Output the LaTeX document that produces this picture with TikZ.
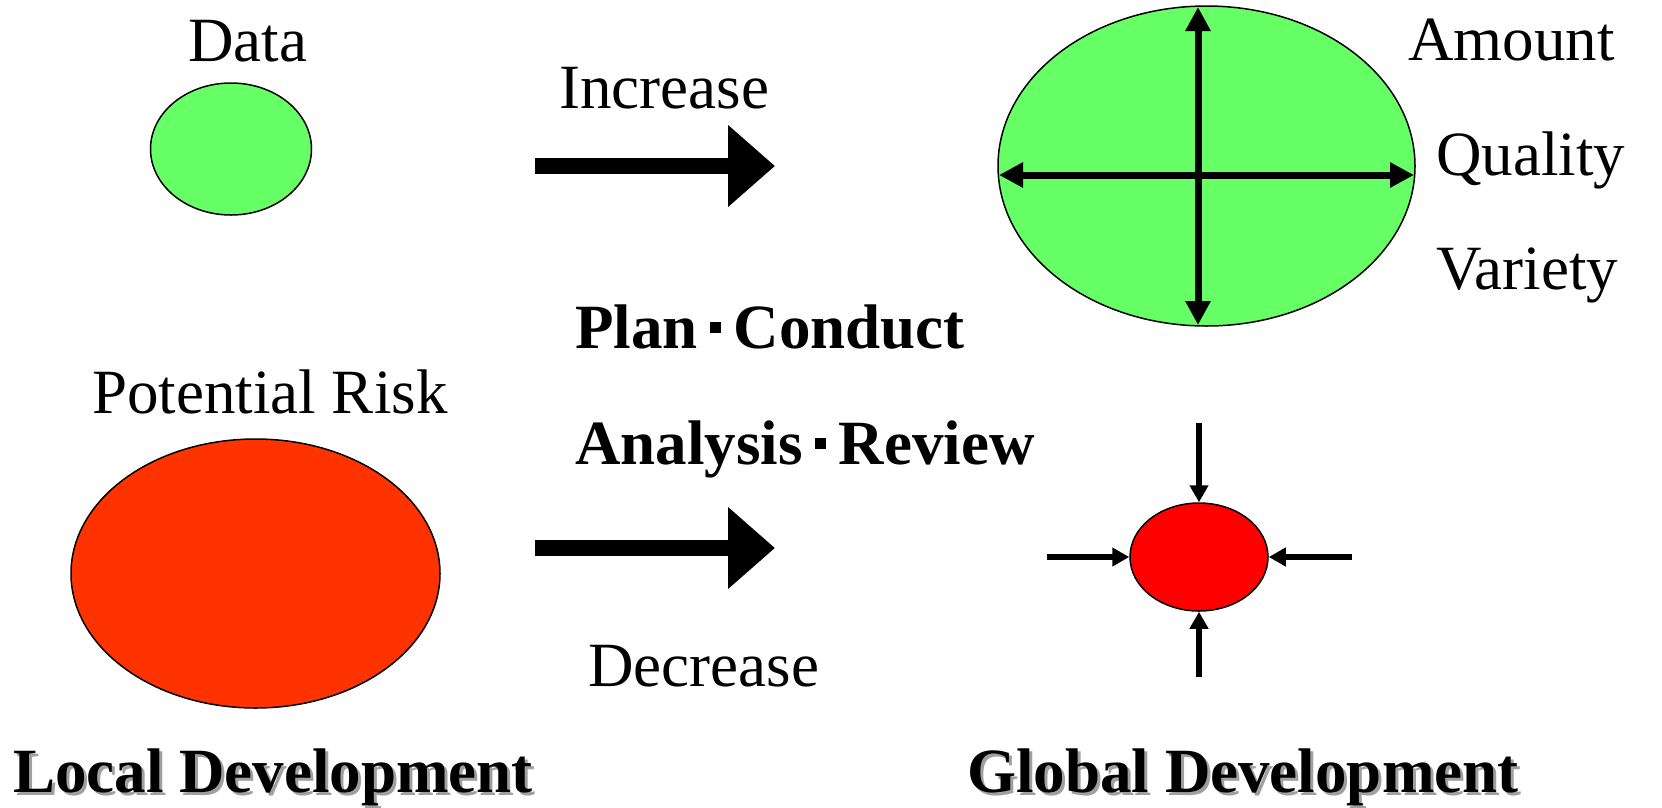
\documentclass[tikz,border=0pt]{standalone}
\usepackage{fontspec}
\setmainfont{Liberation Serif}
\usetikzlibrary{arrows.meta,shapes.geometric}
\definecolor{lightgreen}{HTML}{66FF66}
\definecolor{riskred}{HTML}{FF3300}
\definecolor{dotred}{HTML}{FF0000}
\definecolor{shadowgray}{HTML}{A0A0A0}
\newcommand{\midsep}{\hbox to 0.57em{\hss\rule[0.24em]{0.175em}{0.175em}\hss}}
\begin{document}
\begin{tikzpicture}[x=1pt,y=-1pt,
  lbl/.style={inner sep=0pt, anchor=base west, font=\fontsize{63}{70}\selectfont},
  boldlbl/.style={inner sep=0pt, anchor=base west, font=\fontsize{63}{70}\selectfont\bfseries},
  titlelbl/.style={inner sep=0pt, anchor=base west, font=\fontsize{63}{70}\selectfont\bfseries},
  blob/.style={ellipse, draw=black, line width=1.5pt, inner sep=0pt},
  block/.style={line width=16pt, -{Triangle[length=47pt,width=79pt]}},
  cross/.style={line width=7pt, {Triangle[length=24pt,width=24pt]}-{Triangle[length=24pt,width=24pt]}},
  squeeze/.style={line width=6pt, -{Triangle[length=17pt,width=18pt]}}]
\useasboundingbox (0,0) rectangle (1662,807);

% top left
\node[lbl] (data) at (188,61) {Data};
\node[blob, fill=lightgreen, minimum width=161pt, minimum height=132pt] (dataell) at (231,149) {};

% increase arrow
\node[lbl] (inc) at (559,108) {Increase};
\coordinate (a1s) at (535,166);
\coordinate (a1e) at (775,166);
\draw[block] (a1s) -- (a1e);

% big green ellipse
\node[blob, fill=lightgreen, minimum width=417pt, minimum height=320pt] (big) at (1206.5,166) {};
\coordinate (vt) at (1198,7);
\coordinate (vb) at (1198,325);
\coordinate (hl) at (999,175);
\coordinate (hr) at (1414,175);
\draw[cross] (vt) -- (vb);
\draw[cross] (hl) -- (hr);
\node[lbl] (amount) at (1408,60) {Amount};
\node[lbl] (quality) at (1436,175) {Quality};
\node[lbl] (variety) at (1436,289) {Variety};

% middle texts
\node[boldlbl] (plan) at (575,348) {Plan\midsep Conduct};
\node[boldlbl] (analysis) at (575,464) {Analysis\midsep Review};

% bottom left
\node[lbl] (risk) at (92,413) {Potential Risk};
\node[blob, fill=riskred, minimum width=369pt, minimum height=269pt] (riskell) at (255.5,573.5) {};

% decrease arrow
\coordinate (a2s) at (535,548);
\coordinate (a2e) at (775,548);
\draw[block] (a2s) -- (a2e);
\node[lbl] (dec) at (588,686) {Decrease};

% small red ellipse
\node[blob, fill=dotred, minimum width=138pt, minimum height=108pt] (small) at (1199,557) {};
\coordinate (st) at (1199,423);
\coordinate (sb) at (1199,677);
\coordinate (sl) at (1047,557);
\coordinate (sr) at (1352,557);
\draw[squeeze] (st) -- (small.north);
\draw[squeeze] (sb) -- (small.south);
\draw[squeeze] (sl) -- (small.west);
\draw[squeeze] (sr) -- (small.east);

% titles with shadow
\node[titlelbl, text=shadowgray] (localsh) at (16,795) {Local Development};
\node[titlelbl] (local) at (13,792) {Local Development};
\node[titlelbl, text=shadowgray] (globalsh) at (970,795) {Global Development};
\node[titlelbl] (global) at (967,792) {Global Development};
\end{tikzpicture}
\end{document}
